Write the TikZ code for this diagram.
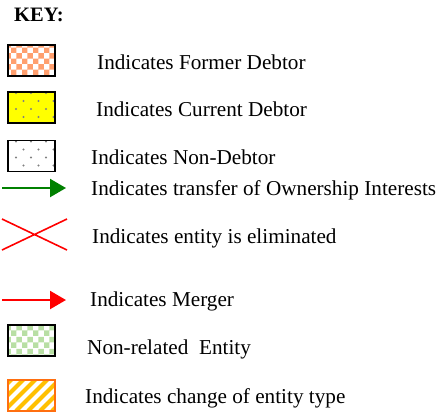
\documentclass[tikz,border=0pt]{standalone}
\usepackage{fontspec}
\setmainfont{Liberation Serif}
\usepackage{tikz}
\usetikzlibrary{arrows.meta,positioning,calc,patterns}

\definecolor{salmon}{HTML}{FF9F6E}
\definecolor{ylw}{HTML}{FFFF00}
\definecolor{darkgr}{HTML}{008000}
\definecolor{palegr}{HTML}{B8DFA4}
\definecolor{gold}{HTML}{FFC000}
\definecolor{orng}{HTML}{FF6F10}

\tikzset{
  keybox/.style={draw=black,line width=1.6pt,minimum width=47pt,minimum height=31pt,inner sep=0pt},
  keytext/.style={anchor=west,inner sep=0pt,font=\fontsize{21.2}{25}\selectfont},
  dotted box/.style={path picture={
    \foreach \r [evaluate=\r as \sh using {7.5*mod(\r,2)}] in {0,...,4}{
      \foreach \c in {0,...,4}{
        \fill[gray] ($(path picture bounding box.north west)+({8+15*\c+\sh},{1+8*\r})$) circle (1.1pt);
      }
    }}},
  flow/.style={line width=2.2pt,-{Triangle[length=16pt,width=18pt]}}
}

\begin{document}
\begin{tikzpicture}[x=1pt,y=-1pt]
\useasboundingbox (0,0) rectangle (441,416);

\node[anchor=west,inner sep=0pt,font=\fontsize{20.5}{24}\selectfont\bfseries] (key) at (14,15) {KEY:};

% boxes
\node[keybox,fill=white,pattern color=salmon,pattern=checkerboard] (former) at (31.5,60.5) {};
\node[keybox,fill=ylw,dotted box] (current) at (31.5,107.5) {};
\node[keybox,fill=white,dotted box] (nondebtor) at (31.5,156) {};
\node[keybox,fill=white,pattern color=palegr,pattern=checkerboard] (nonrel) at (31.5,340.5) {};
\node[keybox,draw=orng,line width=1.4pt,fill=white,
  path picture={\foreach \s in {-40,-28,...,60}{
    \draw[gold,line width=4pt] ($(path picture bounding box.south west)+(\s,0)$) -- ++(40,-40);}}] (typechg) at (31.5,395.5) {};

% arrows and cross
\coordinate (g1) at (2,188);  \coordinate (g2) at (66,188);
\draw[flow,darkgr] (g1) -- (g2);
\coordinate (x1) at (2,219);  \coordinate (x2) at (67,250);
\coordinate (x3) at (2,250);  \coordinate (x4) at (67,219);
\draw[red,line width=1.6pt] (x1) -- (x2) (x3) -- (x4);
\coordinate (r1) at (2,300);  \coordinate (r2) at (66,300);
\draw[flow,red] (r1) -- (r2);

% labels
\node[keytext] (t1) at (97,62) {Indicates Former Debtor};
\node[keytext] (t2) at (96,109) {Indicates Current Debtor};
\node[keytext] (t3) at (91,157) {Indicates Non-Debtor};
\node[keytext] (t4) at (91,190) {Indicates transfer of Ownership Interests};
\node[keytext] (t5) at (92,238) {Indicates entity is eliminated};
\node[keytext] (t6) at (90,301) {Indicates Merger};
\node[keytext] (t7) at (87,349) {Non-related\ \ Entity};
\node[keytext] (t8) at (85,398) {Indicates change of entity type};
\end{tikzpicture}
\end{document}
